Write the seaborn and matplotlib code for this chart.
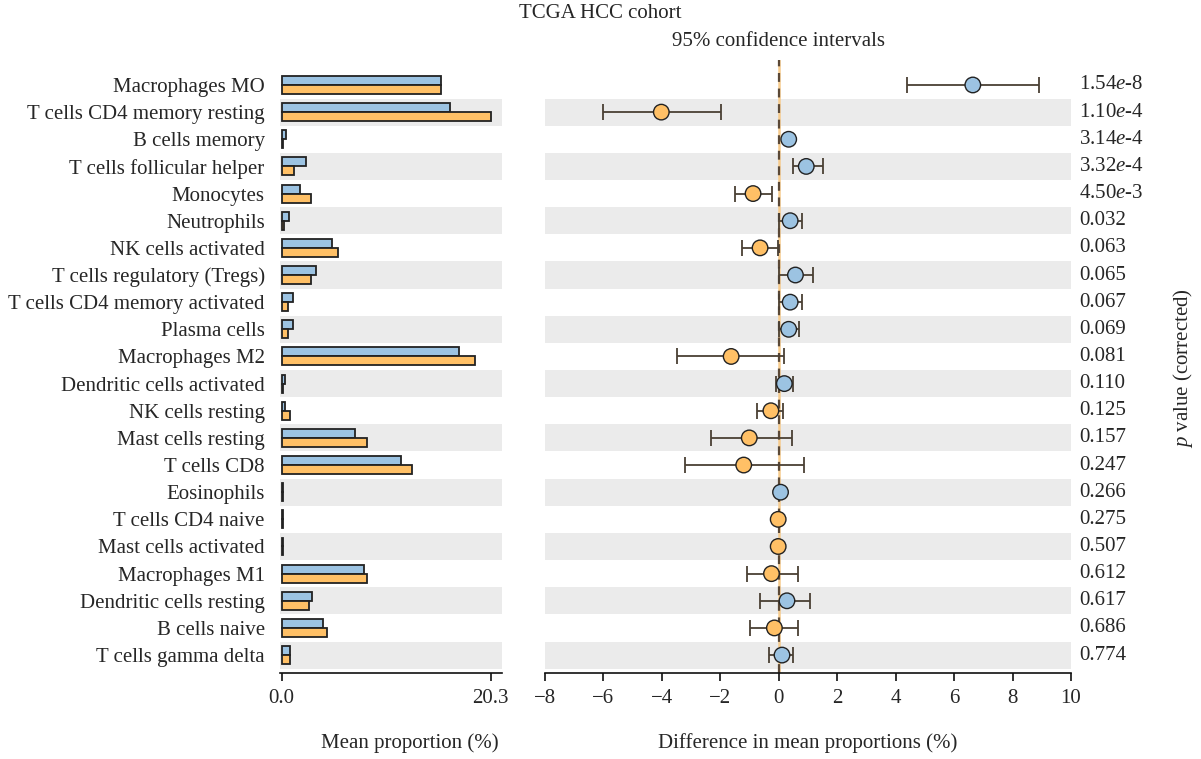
import numpy as np
import pandas as pd
import matplotlib
matplotlib.use("Agg")
import matplotlib.pyplot as plt
import seaborn as sns

# data
cells = ["Macrophages MO", "T cells CD4 memory resting", "B cells memory",
         "T cells follicular helper", "Monocytes", "Neutrophils",
         "NK cells activated", "T cells regulatory (Tregs)",
         "T cells CD4 memory activated", "Plasma cells", "Macrophages M2",
         "Dendritic cells activated", "NK cells resting", "Mast cells resting",
         "T cells CD8", "Eosinophils", "T cells CD4 naive", "Mast cells activated",
         "Macrophages M1", "Dendritic cells resting", "B cells naive",
         "T cells gamma delta"]
blue_mean = [15.5, 16.3, 0.45, 2.4, 1.8, 0.75, 4.9, 3.3, 1.1, 1.1, 17.2, 0.35,
             0.35, 7.15, 11.6, 0.15, 0.12, 0.15, 7.95, 2.9, 4.0, 0.78]
orange_mean = [15.5, 20.3, 0.1, 1.2, 2.8, 0.2, 5.5, 2.8, 0.65, 0.65, 18.8, 0.1,
               0.8, 8.25, 12.7, 0.12, 0.15, 0.17, 8.25, 2.65, 4.4, 0.78]
diff = [6.64, -4.02, 0.34, 0.94, -0.88, 0.39, -0.64, 0.57, 0.39, 0.34, -1.63,
        0.19, -0.27, -1.01, -1.20, 0.06, -0.02, -0.02, -0.25, 0.28, -0.15, 0.11]
ci_low = [4.40, -6.01, 0.34, 0.48, -1.50, 0.0, -1.25, 0.02, 0.02, 0.02, -3.49,
          -0.08, -0.73, -2.32, -3.22, 0.06, -0.02, -0.02, -1.08, -0.65, -0.99, -0.34]
ci_high = [8.92, -1.99, 0.34, 1.50, -0.22, 0.78, -0.01, 1.18, 0.81, 0.70, 0.18,
           0.47, 0.13, 0.46, 0.86, 0.06, -0.02, -0.02, 0.66, 1.08, 0.66, 0.48]
p_values = ["1.54$e$-8", "1.10$e$-4", "3.14$e$-4", "3.32$e$-4", "4.50$e$-3",
            "0.032", "0.063", "0.065", "0.067", "0.069", "0.081", "0.110",
            "0.125", "0.157", "0.247", "0.266", "0.275", "0.507", "0.612",
            "0.617", "0.686", "0.774"]

blue = "#9CC3E2"
orange = "#FFC066"
band = "#EBEBEB"
edge = "#222222"
ebar = "#4A4034"

sns.set_theme(style="white")
plt.rcParams["font.family"] = ["Liberation Serif", "DejaVu Serif"]
plt.rcParams["mathtext.fontset"] = "custom"
plt.rcParams["mathtext.rm"] = "Liberation Serif"
plt.rcParams["mathtext.it"] = "Liberation Serif:italic"
fs = 15

fig = plt.figure(figsize=(12.01, 7.59), dpi=100)
bot, hgt = 1 - 673 / 759, (673 - 60) / 759
ax1 = fig.add_axes([280 / 1201, bot, 222 / 1201, hgt])
ax2 = fig.add_axes([545 / 1201, bot, 526 / 1201, hgt])

n = len(cells)
pos = np.arange(n)

# alternating grey bands
for ax in (ax1, ax2):
    for i in range(1, n, 2):
        ax.axhspan(i - 0.5, i + 0.5, color=band, lw=0, zorder=0)

# left: mean proportions
df = pd.DataFrame({
    "cell": cells * 2,
    "value": blue_mean + orange_mean,
    "group": ["A"] * n + ["B"] * n,
})
sns.barplot(data=df, y="cell", x="value", hue="group", orient="h",
            palette=[blue, orange], saturation=1, width=0.66, edgecolor=edge,
            linewidth=1.3, legend=False, ax=ax1, zorder=2)
ax1.set_xlim(-0.17, 21.4)
ax1.set_ylim(n - 1 + 0.66, -0.92)
ax1.set_xticks([0, 20.3])
ax1.set_xticklabels(["0.0", "20.3"])
ax1.set_xlabel("")
ax1.set_ylabel("")
ax1.tick_params(axis="y", length=0, pad=11, labelsize=fs)

# right: differences with confidence intervals
d = np.array(diff)
lo = d - np.array(ci_low)
hi = np.array(ci_high) - d
ax2.axvline(0, color="#F6CB8C", lw=1.8, zorder=1)
ax2.axvline(0, color="#5A4836", lw=1.6, ls=(0, (4, 3)), zorder=1)
ax2.errorbar(d, pos, xerr=[lo, hi], fmt="none", ecolor=ebar, elinewidth=1.3,
             capsize=5.5, capthick=1.3, zorder=3)
sides = np.where(d > 0, "up", "down")
sns.scatterplot(x=d, y=pos, hue=sides, hue_order=["up", "down"],
                palette=[blue, orange], s=125, edgecolor=edge, linewidth=1.0,
                legend=False, ax=ax2, zorder=4)
ax2.set_xlim(-8, 10)
ax2.set_ylim(n - 1 + 0.66, -0.92)
ax2.set_xticks(range(-8, 11, 2))
ax2.set_yticks([])

for ax in (ax1, ax2):
    for s in ["top", "right", "left"]:
        ax.spines[s].set_visible(False)
    ax.spines["bottom"].set_color("#111111")
    ax.spines["bottom"].set_linewidth(1.2)
    ax.tick_params(axis="x", bottom=True, direction="out", length=5.5,
                   width=1.2, color="#111111", pad=6, labelsize=fs)

tr = ax2.get_yaxis_transform()
for i, p in enumerate(p_values):
    ax2.text(1.015, i, p, transform=tr, ha="left", va="center", fontsize=fs)

fig.text(600 / 1201, 1 - 14 / 759, "TCGA HCC cohort", ha="center", va="center", fontsize=fs)
fig.text(779 / 1201, 1 - 42 / 759, "95% confidence intervals", ha="center", va="center", fontsize=fs)
fig.text(410 / 1201, 1 - 743 / 759, "Mean proportion (%)", ha="center", va="center", fontsize=fs)
fig.text(808 / 1201, 1 - 743 / 759, "Difference in mean proportions (%)", ha="center", va="center", fontsize=fs)
fig.text(1183 / 1201, 1 - 368 / 759, "$p$ value (corrected)", rotation=90,
         ha="center", va="center", fontsize=fs)

fig.savefig("out.png", dpi=100)
